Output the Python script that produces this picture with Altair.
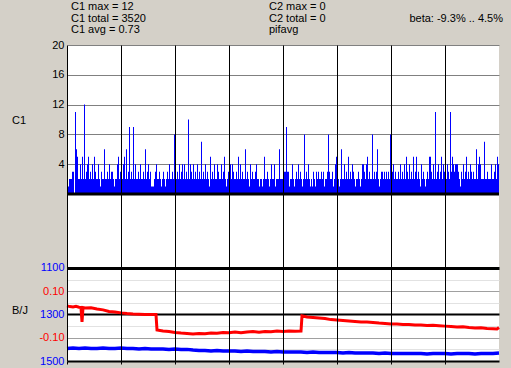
import altair as alt
import pandas as pd

FONT = "Liberation Sans"

# C1 counts, one per pixel column of the trace (column 0 .. 431)
c1_values = [
    2, 1, 2, 2, 2, 3, 3, 0, 11, 6, 5, 2, 2, 4, 2, 5, 2, 12, 2, 3, 4, 5, 2, 3,
    2, 4, 2, 5, 3, 2, 2, 4, 2, 1, 3, 2, 2, 6, 2, 2, 3, 2, 4, 2, 3, 3, 2, 1,
    2, 2, 4, 5, 2, 3, 2, 2, 4, 5, 2, 6, 2, 3, 9, 2, 3, 2, 9, 2, 4, 2, 2, 3,
    2, 4, 2, 2, 3, 2, 6, 2, 3, 4, 2, 3, 1, 1, 1, 2, 3, 4, 2, 2, 3, 2, 1, 2,
    3, 2, 1, 2, 3, 2, 4, 2, 2, 3, 2, 8, 8, 2, 3, 2, 4, 2, 3, 4, 2, 4, 2, 3,
    2, 10, 2, 4, 3, 2, 4, 2, 3, 2, 4, 2, 3, 2, 7, 2, 3, 2, 4, 2, 3, 2, 1, 5,
    2, 3, 2, 4, 2, 2, 4, 3, 2, 2, 4, 2, 3, 5, 2, 1, 2, 3, 2, 4, 2, 4, 3, 2,
    2, 3, 2, 5, 2, 4, 2, 3, 2, 2, 6, 2, 3, 2, 1, 4, 2, 3, 2, 2, 3, 4, 2, 2,
    1, 2, 2, 1, 2, 5, 2, 2, 3, 2, 1, 2, 4, 2, 2, 4, 1, 2, 2, 2, 6, 2, 2, 2,
    4, 3, 3, 9, 3, 3, 1, 2, 2, 4, 2, 1, 2, 3, 2, 4, 2, 3, 2, 1, 2, 8, 2, 3,
    2, 4, 2, 1, 2, 1, 3, 2, 1, 3, 2, 3, 2, 2, 3, 2, 3, 1, 2, 2, 3, 8, 3, 2,
    2, 3, 1, 2, 4, 5, 5, 2, 1, 2, 6, 2, 2, 4, 2, 3, 2, 5, 2, 3, 2, 4, 3, 2,
    1, 2, 2, 3, 2, 1, 2, 4, 4, 3, 2, 4, 5, 2, 3, 2, 2, 8, 2, 3, 2, 3, 6, 2,
    1, 2, 3, 3, 2, 3, 2, 3, 2, 3, 2, 8, 2, 3, 4, 2, 3, 2, 2, 3, 2, 4, 2, 3,
    2, 4, 2, 5, 3, 2, 4, 2, 3, 2, 5, 2, 3, 5, 2, 3, 2, 1, 4, 2, 3, 2, 1, 2,
    3, 2, 5, 5, 3, 2, 4, 2, 11, 2, 3, 4, 2, 3, 5, 2, 4, 3, 4, 2, 4, 3, 2, 11,
    3, 5, 4, 3, 4, 4, 4, 3, 2, 1, 3, 2, 4, 2, 3, 5, 2, 3, 2, 4, 3, 2, 3, 2,
    2, 6, 2, 4, 5, 4, 2, 2, 2, 7, 2, 2, 3, 2, 2, 2, 4, 2, 2, 3, 4, 2, 5, 4,
]

# red trace (beta), right-hand scale
red_idx = [0, 3, 6, 9, 12, 14, 15, 16, 18, 24, 30, 36, 42, 48, 54, 60, 66, 72, 78, 84, 89,
           90, 96, 102, 108, 114, 120, 126, 132, 138, 144, 150, 156, 162, 168, 174, 180,
           186, 192, 198, 204, 210, 216, 222, 228, 234,
           235, 240, 246, 252, 258, 264, 270, 276, 282, 288, 294, 300, 306, 312, 318, 324,
           330, 336, 342, 348, 354, 360, 366, 372, 378, 384, 390, 396, 402, 408, 414, 420,
           426, 430, 432]
red_vals = [0.037, 0.034, 0.032, 0.035, 0.031, 0.030, -0.032, 0.030, 0.028, 0.029, 0.024,
            0.020, 0.013, 0.011, 0.007, 0.004, 0.002, 0.001, 0.000, 0.000, 0.000,
            -0.067, -0.071, -0.073, -0.077, -0.080, -0.082, -0.084, -0.082, -0.083, -0.080,
            -0.081, -0.077, -0.078, -0.075, -0.078, -0.075, -0.073, -0.076, -0.073, -0.074,
            -0.071, -0.073, -0.071, -0.072, -0.071,
            -0.006, -0.011, -0.013, -0.015, -0.017, -0.022, -0.024, -0.026, -0.028, -0.030,
            -0.032, -0.032, -0.034, -0.037, -0.039, -0.041, -0.041, -0.043, -0.043, -0.045,
            -0.045, -0.047, -0.046, -0.048, -0.050, -0.052, -0.054, -0.053, -0.056, -0.058,
            -0.057, -0.060, -0.061, -0.062, -0.056]

# blue trace (B/J)
blue_idx = list(range(0, 433, 6))
blue_vals = [1446, 1444, 1446, 1444, 1446, 1446, 1444, 1446, 1446, 1444,
             1446, 1446, 1448, 1446, 1448, 1448, 1448, 1450, 1448, 1450,
             1450, 1453, 1455, 1455, 1457, 1455, 1457, 1457, 1457, 1459,
             1457, 1459, 1459, 1459, 1461, 1459, 1461, 1461, 1461, 1461,
             1463, 1461, 1463, 1463, 1463, 1463, 1466, 1463, 1466, 1466,
             1466, 1466, 1468, 1466, 1468, 1468, 1468, 1468, 1468, 1468,
             1470, 1468, 1468, 1468, 1470, 1468, 1468, 1468, 1470, 1468,
             1468, 1468, 1466]

x_grid = [0, 54, 108, 162, 216, 270, 324, 378]
c1_ticks = [4, 8, 12, 16, 20]
bj_ticks = [1100, 1150, 1200, 1250, 1300, 1350, 1400, 1450, 1500]

df_c1 = pd.DataFrame({"x0": list(range(len(c1_values))),
                      "x1": [i + 1 for i in range(len(c1_values))],
                      "c1": c1_values})
df_red = pd.DataFrame({"x": red_idx, "v": red_vals})
df_blue = pd.DataFrame({"x": blue_idx, "b": blue_vals})

xscale = alt.Scale(domain=[0, 432], nice=False, zero=False)
xaxis = alt.Axis(values=x_grid, grid=True, gridColor="#000000", gridWidth=1, gridOpacity=1,
                 labels=False, ticks=True, tickColor="#000000", tickSize=3, domain=False,
                 title=None, zindex=1, orient="bottom")

top_scale = alt.Scale(domain=[-22.416, 20], nice=False, zero=False)
top_axis = alt.Axis(orient="left", values=c1_ticks, grid=True, gridColor="#808080",
                    gridWidth=1, gridOpacity=1, ticks=False, domain=False, title=None,
                    labelFont=FONT, labelFontSize=11, labelColor="#000000", labelPadding=3,
                    labelOverlap=False)

bj_axis = alt.Axis(
    orient="left", values=bj_ticks, grid=True, gridOpacity=1,
    gridColor={"condition": [
        {"test": "datum.value == 1100 || datum.value == 1300 || datum.value == 1500", "value": "#000000"},
        {"test": "datum.value == 1200 || datum.value == 1400", "value": "#A0A0A0"}],
        "value": "#E2E2E2"},
    gridWidth={"condition": [
        {"test": "datum.value == 1100", "value": 3},
        {"test": "datum.value == 1300 || datum.value == 1500", "value": 2}],
        "value": 1},
    labelColor={"condition": {"test": "datum.value == 1200 || datum.value == 1400", "value": "#FF0000"},
                "value": "#0000FF"},
    labelExpr=("datum.value == 1200 ? '0.10' : datum.value == 1400 ? '-0.10' : "
               "(datum.value == 1100 || datum.value == 1300 || datum.value == 1500) ? datum.label : ''"),
    format="d", ticks=False, domain=False, title=None, labelFont=FONT, labelFontSize=11,
    labelPadding=3, labelOverlap=False)

bars = alt.Chart(df_c1).mark_bar(color="#0000FF", strokeWidth=0).encode(
    x=alt.X("x0:Q", scale=xscale, axis=xaxis),
    x2="x1:Q",
    y=alt.Y("c1:Q", scale=top_scale, axis=top_axis),
    y2=alt.datum(0),
)

zero_line = alt.Chart(pd.DataFrame({"z": [0]})).mark_rule(color="#000000", strokeWidth=3).encode(
    y=alt.Y("z:Q", scale=top_scale, axis=None)
)

red = alt.Chart(df_red).mark_line(color="#FF0000", strokeWidth=3).encode(
    x=alt.X("x:Q", scale=xscale, axis=xaxis),
    y=alt.Y("v:Q", scale=alt.Scale(domain=[-0.2, 1.1591], nice=False, zero=False), axis=None),
)

blue = alt.Chart(df_blue).mark_line(color="#0000FF", strokeWidth=3.5).encode(
    x=alt.X("x:Q", scale=xscale, axis=xaxis),
    y=alt.Y("b:Q", scale=alt.Scale(domain=[140.9, 1500], reverse=True, nice=False, zero=False),
            axis=bj_axis),
)


def label(txt, x, y, color="#000000", align="left"):
    return alt.Chart(alt.Data(values=[{}])).mark_text(
        text=txt, align=align, baseline="middle", font=FONT, fontSize=11, color=color
    ).encode(x=alt.value(x), y=alt.value(y))


texts = [
    label("C1 max = 12", 4, -38.5),
    label("C1 total = 3520", 4, -26.3),
    label("C1 avg = 0.73", 4, -14.7),
    label("C2 max = 0", 202, -38.5),
    label("C2 total = 0", 202, -26.3),
    label("pifavg", 202, -14.7),
    label("beta: -9.3% .. 4.5%", 436, -26.3, align="right"),
    label("C1", -55, 76),
    label("B/J", -55, 266),
]

chart = alt.layer(bars, zero_line, red, blue, *texts).resolve_scale(
    y="independent"
).properties(
    width=432, height=316,
    autosize=alt.AutoSizeParams(type="none"),
    padding={"left": 67, "top": 45, "right": 12, "bottom": 7},
    background="#D4D0C8",
).configure_view(fill="#FFFFFF", stroke=None)

chart.save("out.html", embed_options={"renderer": "svg", "actions": False})
